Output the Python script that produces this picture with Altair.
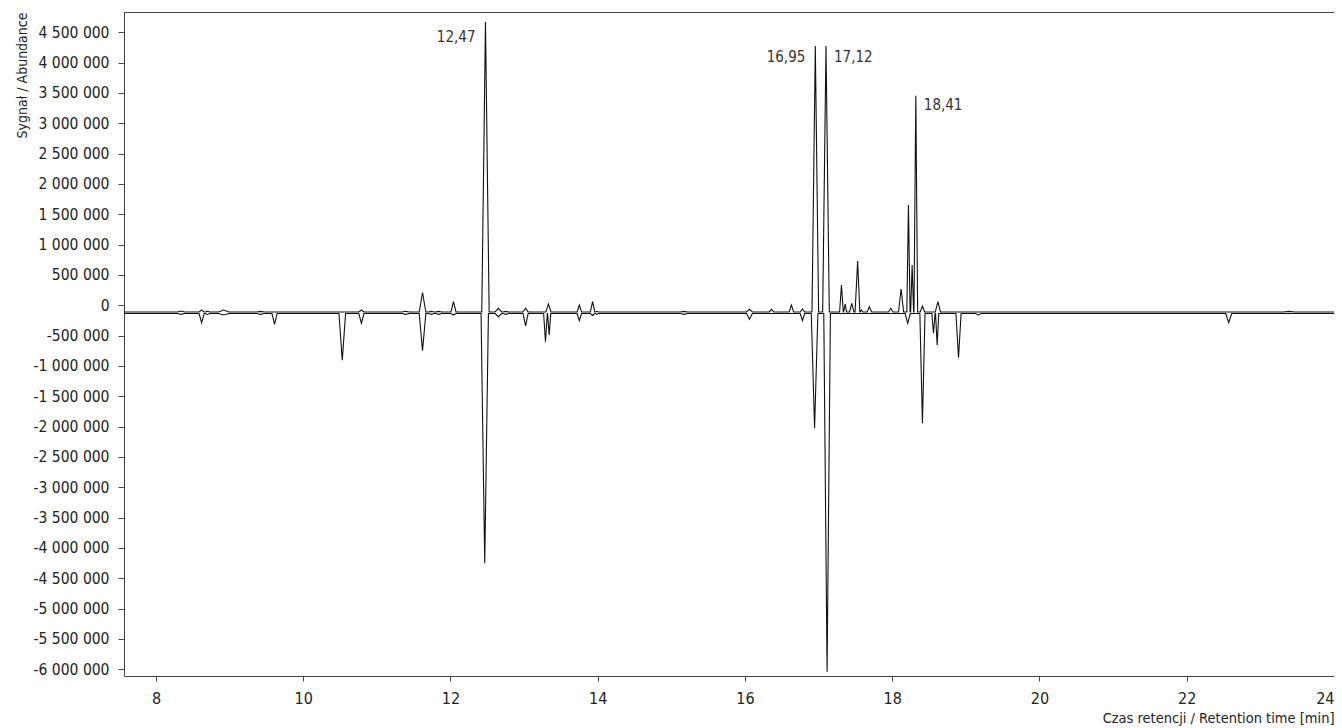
import altair as alt
import pandas as pd

FONT = "Liberation Sans Narrow, DejaVu Sans Condensed, Roboto, sans-serif"

# ---------------- data ----------------
x_ticks = [8, 10, 12, 14, 16, 18, 20, 22, 24]
y_ticks = [-6000000, -5500000, -5000000, -4500000, -4000000, -3500000, -3000000,
           -2500000, -2000000, -1500000, -1000000, -500000, 0, 500000, 1000000,
           1500000, 2000000, 2500000, 3000000, 3500000, 4000000, 4500000]

# upper chromatogram (peaks drawn upward)
upper_base = -110000
upper_rt = [8.34, 8.62, 8.70, 8.92, 9.42, 10.79, 11.39, 11.62, 11.74, 11.84,
            12.04, 12.475, 12.65, 12.75, 13.02, 13.33, 13.75, 13.93, 13.99, 15.17,
            16.06, 16.36, 16.63, 16.78, 16.955, 17.10, 17.31, 17.36, 17.45, 17.53,
            17.58, 17.69, 17.98, 18.12, 18.22, 18.27, 18.32, 18.41, 18.62, 23.39]
upper_val = [-95000, -78000, -98000, -78000, -100000, -78000, -98000, 211000, -100000, -100000,
             59000, 4675000, -49000, -100000, -49000, 21000, 5000, 59000, -100000, -100000,
             -66000, -66000, 5000, -61000, 4275000, 4275000, 335000, 21000, 33000, 730000,
             -77000, -23000, -49000, 269000, 1653000, 664000, 3455000, -12000, 59000, -100000]
upper_hw = [0.05, 0.035, 0.03, 0.07, 0.05, 0.035, 0.05, 0.045, 0.04, 0.04,
            0.035, 0.05, 0.045, 0.04, 0.035, 0.035, 0.03, 0.03, 0.02, 0.05,
            0.04, 0.03, 0.03, 0.03, 0.045, 0.045, 0.025, 0.02, 0.03, 0.035,
            0.02, 0.03, 0.03, 0.035, 0.022, 0.02, 0.025, 0.03, 0.035, 0.08]

# lower chromatogram (peaks drawn downward)
lower_base = -135000
lower_rt = [8.34, 8.62, 8.70, 8.92, 9.42, 9.61, 10.53, 10.79, 11.39, 11.62,
            11.74, 11.84, 12.04, 12.465, 12.65, 12.75, 13.02, 13.29, 13.34, 13.75,
            13.93, 13.99, 15.17, 16.06, 16.78, 16.945, 17.115, 18.21, 18.41, 18.56,
            18.61, 18.90, 19.17, 22.57]
lower_val = [-150000, -287000, -150000, -160000, -150000, -313000, -907000, -297000, -150000, -748000,
             -150000, -150000, -160000, -4253000, -188000, -150000, -341000, -600000, -490000, -254000,
             -168000, -150000, -150000, -231000, -254000, -2028000, -6040000, -297000, -1945000, -462000,
             -654000, -864000, -160000, -287000]
lower_hw = [0.05, 0.035, 0.03, 0.07, 0.05, 0.035, 0.045, 0.035, 0.05, 0.045,
            0.04, 0.04, 0.035, 0.05, 0.045, 0.04, 0.035, 0.025, 0.022, 0.03,
            0.03, 0.02, 0.05, 0.04, 0.03, 0.045, 0.045, 0.035, 0.035, 0.022,
            0.022, 0.035, 0.04, 0.04]

# peak annotations
label_text = ["12,47", "16,95", "17,12", "18,41"]
label_t = [12.475, 16.955, 17.10, 18.32]
label_v = [4430000, 4100000, 4100000, 3300000]
label_side = ["left", "left", "right", "right"]

x_domain = [7.5654, 24.0]
y_domain = [-6111000, 4835000]


# ---------------- build the tables ----------------
def trace_rows(name, base, rts, vals, hws):
    rows = [{"trace": name, "t": 7.4, "v": base}]
    for rt, val, hw in zip(rts, vals, hws):
        rows.append({"trace": name, "t": rt - hw, "v": base})
        rows.append({"trace": name, "t": rt, "v": val})
        rows.append({"trace": name, "t": rt + hw, "v": base})
    rows.append({"trace": name, "t": 24.2, "v": base})
    return rows


lines_df = pd.DataFrame(
    trace_rows("upper", upper_base, upper_rt, upper_val, upper_hw)
    + trace_rows("lower", lower_base, lower_rt, lower_val, lower_hw)
)
labels_df = pd.DataFrame({"t": label_t, "v": label_v, "text": label_text, "side": label_side})

y_label_expr = ("(datum.value < 0 ? '-' : '') + "
                "replace(format(abs(datum.value), ','), regexp(',', 'g'), ' ')")

x_enc = alt.X(
    "t:Q",
    scale=alt.Scale(domain=x_domain, nice=False, zero=False),
    axis=alt.Axis(
        values=x_ticks, format="d", grid=False,
        domainColor="#444", tickColor="#444", tickSize=5,
        labelFont=FONT, labelFontSize=16, labelColor="#222", labelPadding=9,
        title="Czas retencji / Retention time [min]",
        titleFont=FONT, titleFontSize=14.5, titleFontWeight="normal", titleColor="#222",
        titleAnchor="end", titleAlign="right", titleBaseline="alphabetic", titleY=46,
    ),
)
y_enc = alt.Y(
    "v:Q",
    scale=alt.Scale(domain=y_domain, nice=False, zero=False),
    axis=alt.Axis(
        values=y_ticks, labelExpr=y_label_expr, grid=False,
        domainColor="#444", tickColor="#444", tickSize=6,
        labelFont=FONT, labelFontSize=15.5, labelColor="#222", labelPadding=9,
        title="Sygnał / Abundance",
        titleFont=FONT, titleFontSize=14, titleFontWeight="normal", titleColor="#222",
        titleAngle=270, titleAlign="right", titleBaseline="alphabetic",
        titleX=-98, titleY=0,
    ),
)

lines = alt.Chart(lines_df).mark_line(
    color="#111", strokeWidth=1.1, clip=True
).encode(x=x_enc, y=y_enc, detail="trace:N")

left_labels = alt.Chart(labels_df).transform_filter(
    alt.datum.side == "left"
).mark_text(
    align="right", baseline="middle", dx=-10, font=FONT, fontSize=15, color="#333"
).encode(x=x_enc, y=y_enc, text="text:N")

right_labels = alt.Chart(labels_df).transform_filter(
    alt.datum.side == "right"
).mark_text(
    align="left", baseline="middle", dx=8, font=FONT, fontSize=15, color="#333"
).encode(x=x_enc, y=y_enc, text="text:N")

frame_top = alt.Chart(alt.Data(values=[{}])).mark_rule(
    color="#444", strokeWidth=1
).encode(x=alt.value(0), x2=alt.value(1210), y=alt.value(0.5))

chart = alt.layer(lines, left_labels, right_labels, frame_top).properties(
    width=1210,
    height=664,
    autosize=alt.AutoSizeParams(type="none"),
    padding={"left": 116, "top": 4, "right": 0, "bottom": 52},
).configure_view(stroke=None)

chart.save("out.html", embed_options={"renderer": "svg", "actions": False})
